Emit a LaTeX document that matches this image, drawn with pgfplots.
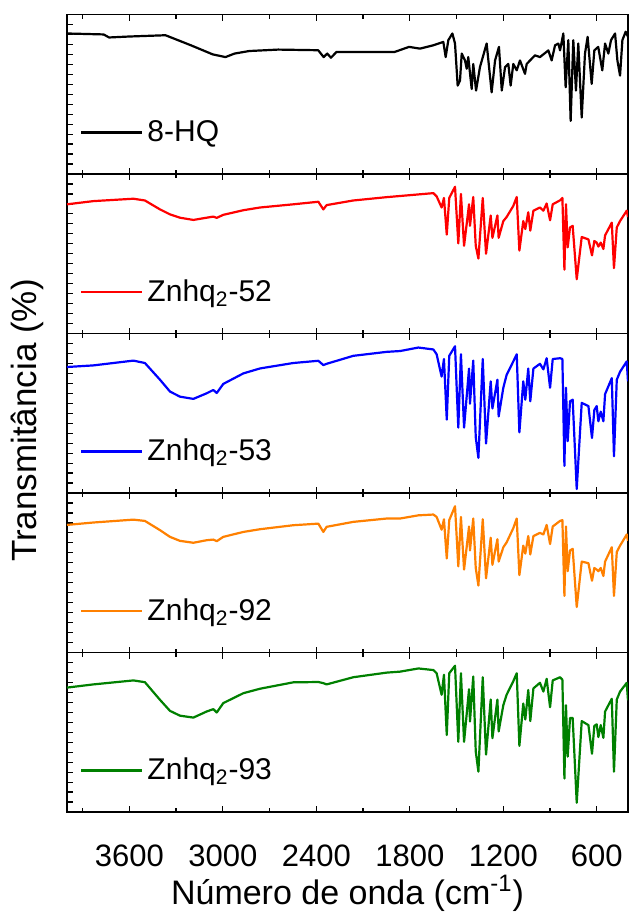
\documentclass[border=0pt]{standalone}
\usepackage{fontspec}
\setmainfont{Liberation Sans}
\usepackage{pgfplots}
\pgfplotsset{compat=1.18}
\usepackage{pgfplotstable}

\definecolor{myorange}{RGB}{255,128,0}
\definecolor{mygreen}{RGB}{0,128,0}

\pgfplotstableread{
wn v
4000 0.881
3765 0.875
3730 0.856
3600 0.862
3368 0.870
3205 0.807
3065 0.750
2983 0.733
2925 0.755
2831 0.771
2645 0.780
2388 0.776
2353 0.733
2330 0.755
2306 0.729
2271 0.765
1898 0.765
1805 0.797
1735 0.786
1649 0.807
1585 0.828
1570 0.733
1553 0.839
1527 0.881
1510 0.818
1493 0.554
1478 0.586
1467 0.755
1446 0.712
1435 0.660
1425 0.733
1403 0.533
1393 0.690
1375 0.523
1350 0.670
1307 0.818
1275 0.512
1253 0.712
1228 0.797
1210 0.523
1189 0.670
1168 0.690
1153 0.554
1136 0.690
1114 0.650
1093 0.712
1061 0.628
1050 0.690
997 0.744
965 0.733
911 0.775
890 0.712
868 0.807
847 0.818
836 0.775
815 0.881
800 0.544
783 0.839
768 0.333
751 0.839
734 0.523
719 0.818
697 0.354
676 0.755
659 0.860
633 0.565
616 0.775
591 0.797
565 0.650
547 0.818
526 0.755
509 0.839
483 0.881
468 0.712
451 0.617
436 0.839
415 0.892
400 0.860
}\hqdata

\pgfplotstableread{
wn b r o g
4000 0.790 0.810 0.800 0.780
3831 0.800 0.830 0.815 0.800
3574 0.830 0.845 0.833 0.825
3500 0.815 0.834 0.825 0.814
3403 0.710 0.778 0.767 0.703
3339 0.636 0.747 0.725 0.634
3275 0.604 0.726 0.700 0.604
3189 0.590 0.712 0.688 0.592
3104 0.625 0.726 0.704 0.630
3061 0.646 0.733 0.708 0.645
3039 0.627 0.725 0.698 0.624
2997 0.684 0.744 0.725 0.683
2868 0.750 0.773 0.756 0.745
2761 0.781 0.790 0.773 0.773
2548 0.815 0.810 0.798 0.813
2387 0.829 0.826 0.808 0.815
2355 0.802 0.778 0.756 0.808
2334 0.810 0.805 0.788 0.800
2163 0.860 0.834 0.819 0.845
1948 0.885 0.855 0.840 0.874
1863 0.890 0.862 0.840 0.880
1745 0.912 0.872 0.860 0.900
1649 0.900 0.880 0.865 0.890
1628 0.870 0.860 0.850 0.870
1596 0.730 0.790 0.770 0.735
1581 0.840 0.850 0.835 0.860
1563 0.460 0.620 0.590 0.483
1547 0.860 0.850 0.830 0.870
1510 0.920 0.920 0.917 0.917
1489 0.410 0.565 0.540 0.440
1472 0.870 0.875 0.850 0.870
1452 0.410 0.550 0.520 0.440
1420 0.780 0.810 0.790 0.770
1414 0.560 0.675 0.640 0.567
1393 0.830 0.856 0.840 0.850
1377 0.350 0.550 0.530 0.380
1360 0.220 0.470 0.420 0.253
1332 0.840 0.850 0.835 0.845
1311 0.310 0.500 0.465 0.360
1281 0.700 0.740 0.720 0.705
1270 0.530 0.600 0.550 0.463
1238 0.710 0.740 0.710 0.705
1230 0.480 0.600 0.570 0.505
1200 0.660 0.705 0.660 0.670
1179 0.740 0.730 0.690 0.735
1136 0.825 0.800 0.780 0.820
1114 0.870 0.856 0.840 0.870
1097 0.380 0.520 0.485 0.415
1072 0.700 0.705 0.670 0.680
1059 0.585 0.655 0.620 0.580
1040 0.780 0.760 0.730 0.765
1027 0.575 0.645 0.615 0.570
1007 0.780 0.770 0.730 0.775
965 0.810 0.790 0.750 0.810
943 0.775 0.770 0.740 0.755
922 0.845 0.815 0.800 0.835
900 0.660 0.710 0.680 0.657
883 0.840 0.810 0.790 0.825
836 0.845 0.835 0.825 0.845
821 0.840 0.850 0.830 0.830
808 0.170 0.400 0.355 0.210
798 0.660 0.810 0.790 0.670
787 0.325 0.540 0.510 0.347
772 0.575 0.665 0.640 0.590
755 0.585 0.675 0.650 0.590
729 0.025 0.340 0.285 0.058
697 0.565 0.605 0.570 0.570
654 0.545 0.590 0.560 0.545
631 0.345 0.490 0.450 0.365
616 0.520 0.580 0.530 0.540
601 0.545 0.570 0.520 0.550
590 0.450 0.545 0.510 0.470
575 0.510 0.570 0.530 0.545
558 0.450 0.530 0.480 0.465
547 0.620 0.615 0.570 0.630
504 0.720 0.695 0.660 0.710
490 0.230 0.410 0.355 0.253
472 0.710 0.665 0.630 0.705
451 0.760 0.705 0.670 0.755
408 0.825 0.770 0.740 0.810
400 0.700 0.730 0.700 0.700
}\zndata

\pgfplotsset{
  panel/.style={
    scale only axis, width=280.5pt, height=79.75pt,
    xmin=400, xmax=4000, x dir=reverse, ymin=0, ymax=1,
    xtick={600,1200,...,3600}, minor xtick={900,1500,...,3900},
    xticklabels={},
    ytick={0,0.0625,...,1.01}, yticklabels={}, ytick pos=left,
    tick align=inside, major tick length=3pt, minor tick length=2pt,
    axis line style={line width=0.9pt},
    every tick/.style={black, line width=0.6pt},
    scaled x ticks=false,
    /pgf/number format/.cd, 1000 sep={}, assume math mode=true, /pgfplots/.cd,
    legend style={at={(0.023,0.26)}, anchor=west, draw=none, fill=none,
      font=\fontsize{15}{17}\selectfont, inner sep=0pt},
    legend cell align=left,
    legend image code/.code={\draw[#1, line width=1.1pt] (0pt,0pt) -- (30.5pt,0pt);},
    clip=true,
  },
  spec/.style={line width=1.1pt, line join=round, mark=none},
}

\begin{document}
\begin{tikzpicture}
\useasboundingbox (-33.5pt,-450.25pt) rectangle (281.5pt,7.25pt);

\begin{axis}[panel, name=p1, at={(0,0)}, anchor=north west]
\addplot[spec, black] table[x=wn, y=v]{\hqdata};
\addlegendentry{8-HQ}
\end{axis}

\begin{axis}[panel, name=p2, at={(p1.south west)}, anchor=north west]
\addplot[spec, red] table[x=wn, y=r]{\zndata};
\addlegendentry{Znhq\textsubscript{2}-52}
\end{axis}

\begin{axis}[panel, name=p3, at={(p2.south west)}, anchor=north west,
  ylabel={Transmitância (\%)},
  every axis y label/.style={at={(axis description cs:-0.0713,0.454)}, rotate=90, anchor=center, inner sep=0pt, font=\fontsize{17.5}{20}\selectfont}]
\addplot[spec, blue] table[x=wn, y=b]{\zndata};
\addlegendentry{Znhq\textsubscript{2}-53}
\end{axis}

\begin{axis}[panel, name=p4, at={(p3.south west)}, anchor=north west]
\addplot[spec, myorange] table[x=wn, y=o]{\zndata};
\addlegendentry{Znhq\textsubscript{2}-92}
\end{axis}

\begin{axis}[panel, name=p5, at={(p4.south west)}, anchor=north west,
  xticklabels={600,1200,1800,2400,3000,3600},
  xticklabel style={anchor=center, inner sep=0pt, yshift=-22pt, font=\fontsize{15.5}{17}\selectfont},
  xlabel={Número de onda (cm\textsuperscript{-1})},
  every axis x label/.style={at={(axis description cs:0.5,-0.51)}, anchor=center, inner sep=0pt, font=\fontsize{17}{20}\selectfont}]
\addplot[spec, mygreen] table[x=wn, y=g]{\zndata};
\addlegendentry{Znhq\textsubscript{2}-93}
\end{axis}
\end{tikzpicture}
\end{document}
